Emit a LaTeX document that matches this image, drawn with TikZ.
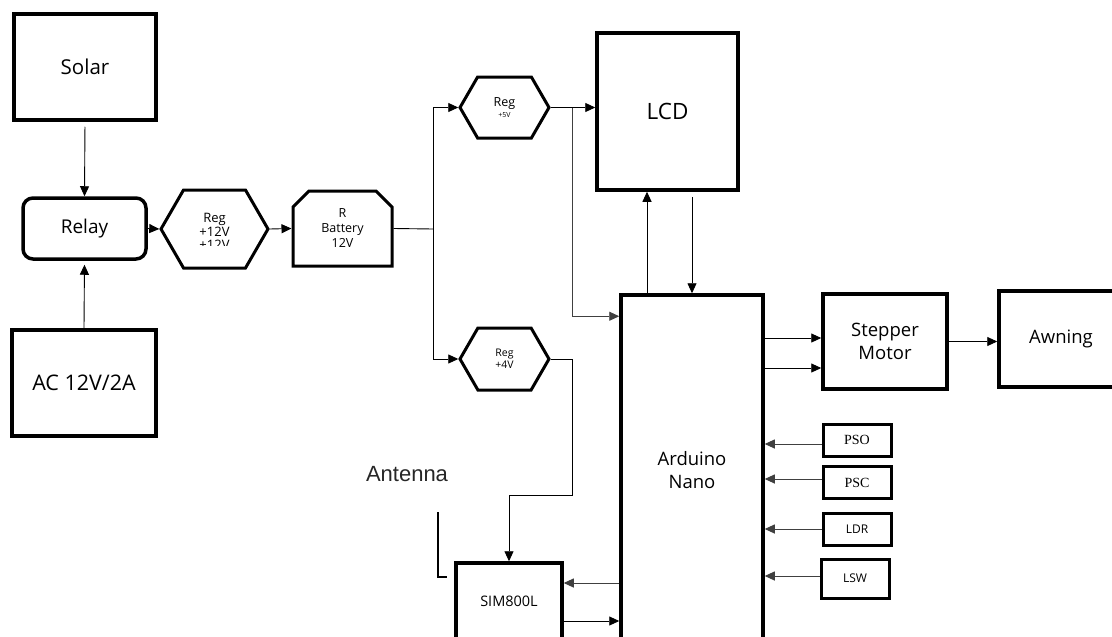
\documentclass[tikz,border=0pt]{standalone}
\usepackage{fontspec}
\setmainfont{Open Sans}
\newfontfamily\arialfont{Liberation Sans}
\newfontfamily\serifont{Liberation Serif}
\usetikzlibrary{arrows.meta,shapes.misc,shapes.symbols}
\newcommand{\fsz}[2]{\fontsize{#1}{#2}\selectfont}

\begin{document}
\begin{tikzpicture}[x=1pt,y=-1pt,
  box/.style={draw,line width=3.5pt,inner sep=0pt,align=center},
  hexa/.style={draw,line width=3pt,signal,signal to=west and east,
    signal pointer angle=120,inner sep=0pt,align=center},
  sens/.style={box,line width=3pt,minimum width=68,minimum height=32},
  arr/.style={-{Triangle[length=10pt,width=9pt]},line width=0.9pt}
]
\useasboundingbox (0,0) rectangle (1112,637);

\node[box,minimum width=142,minimum height=106,font=\fsz{20.5}{24}] (SL) at (85,67) {Solar};
\node[box,rounded corners=10pt,minimum width=123,minimum height=61,font=\fsz{19}{22}]
  (RL) at (84.5,228.5) {Relay};
\node[box,minimum width=144,minimum height=106,font=\fsz{21.5}{25}] (AC) at (84,383) {AC 12V/2A};

\node[hexa,minimum width=107,minimum height=78] (R12) at (214.5,229) {};
\begin{scope}
  \clip (150,195) rectangle (280,245.5);
  \node[align=center,font=\fsz{13}{13.5}] (R12t) at (214.5,231.5) {Reg\\+12V\\+12V};
\end{scope}
\node[box,line width=3pt,chamfered rectangle,chamfered rectangle corners={north west,north east},
  chamfered rectangle xsep=8pt,chamfered rectangle ysep=8pt,
  minimum width=99,minimum height=75,font=\fsz{12.5}{15}] (BT) at (342.5,228.5) {R\\Battery\\12V};

\node[hexa,minimum width=89,minimum height=61,font=\fsz{12.5}{11}] (R5) at (504.5,107.5)
  {Reg\\{\fsz{7}{8}+5V}};
\node[hexa,minimum width=89,minimum height=62,font=\fsz{10.5}{12}] (R4) at (504.5,359) {Reg\\+4V};

\node[box,minimum width=141,minimum height=157,font=\fsz{22.5}{25}] (LCD) at (667.5,111.5) {LCD};
\node[box,minimum width=142,minimum height=350,font=\fsz{18.5}{22.5}] (AN) at (692,470) {Arduino\\Nano};
\node[box,minimum width=124,minimum height=95,font=\fsz{18.5}{22.5}] (SM) at (885,341.5) {Stepper\\Motor};
\node[box,minimum width=124,minimum height=96,font=\fsz{18.5}{22}] (AW) at (1061,339) {Awning};

\node[sens,font=\serifont\fsz{14}{16}] (PSO) at (857,440) {PSO};
\node[sens,font=\serifont\fsz{14}{16}] (PSC) at (857,482.5) {PSC};
\node[sens,font=\fsz{12}{14}] (LDR) at (857,529) {LDR};
\node[sens,minimum height=39,font=\fsz{12}{14}] (LSW) at (855,578.5) {LSW};

\node[box,minimum width=106,minimum height=76,font=\fsz{14.5}{16}] (SIM) at (509,601) {SIM800L};
\node[font=\arialfont\fsz{22}{24},text=black!85] (ANT) at (407,474) {Antenna};
\draw[line width=2.5pt] (438,512) -- (438,577) -- (447,577);

\coordinate (split) at (433,229);
\coordinate (tap5) at (572,107.5);

\draw[arr,shorten <=5pt] (SL.south) -- (RL.north);
\draw[arr,shorten >=4pt] (AC.north) -- (RL.south);
\draw[arr] (RL.east) -- (R12.west);
\draw[arr] (R12.east) -- (BT.west);
\draw[line width=0.9pt] (BT.east) -- (split);
\draw[arr] (split) |- (R5.west);
\draw[arr] (split) |- (R4.west);
\draw[arr] (R5.east) -- (R5.east -| LCD.west);
\draw[arr,black!75] (tap5) |- ([yshift=-23pt]AN.north west);
\draw[arr] (R4.east) -| ++(22,136) -| (SIM.north);

\draw[arr] ([xshift=-45pt]AN.north) -- ([xshift=-45pt]AN.north |- LCD.south);
\draw[arr,shorten <=5pt] (LCD.south -| AN.north) -- (AN.north);
\draw[arr] ([yshift=3.5pt]SM.west -| AN.east) -- ([yshift=3.5pt]SM.west);
\draw[arr] ([yshift=-26.5pt]SM.west -| AN.east) -- ([yshift=-26.5pt]SM.west);
\draw[arr] (SM.east) -- (SM.east -| AW.west);

\draw[arr,black!75] ([yshift=-4pt]PSO.west) -- ([yshift=-4pt]PSO.west -| AN.east);
\draw[arr,black!75] ([yshift=3.5pt]PSC.west) -- ([yshift=3.5pt]PSC.west -| AN.east);
\draw[arr,black!75] (LDR.west) -- (LDR.west -| AN.east);
\draw[arr,black!75] ([yshift=2.5pt]LSW.west) -- ([yshift=2.5pt]LSW.west -| AN.east);

\draw[arr,black!75] ([yshift=18pt]SIM.east -| AN.west) -- ([yshift=18pt]SIM.east);
\draw[arr] ([yshift=-20pt]SIM.east) -- ([yshift=-20pt]SIM.east -| AN.west);
\end{tikzpicture}
\end{document}
